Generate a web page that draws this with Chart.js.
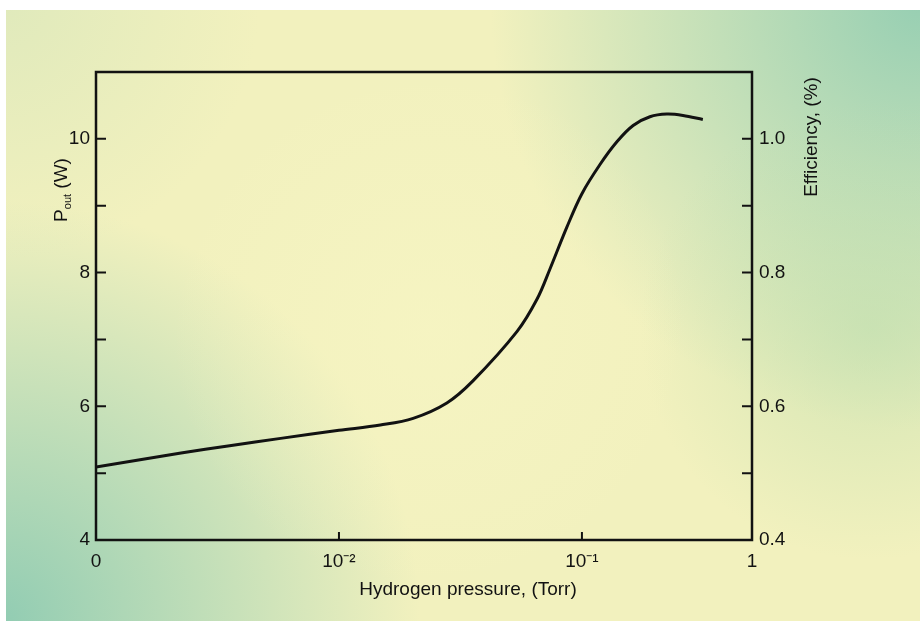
<!DOCTYPE html>
<html>
<head>
    <title>Output power vs hydrogen pressure</title>
    <style>
        body { margin: 0; background: #fff; }
        canvas { display: block; }
    </style>
</head>

<body>

    <canvas id="myChart" width="920" height="621"></canvas>

    <script src="https://cdn.jsdelivr.net/npm/chart.js"></script>

    <script>
        // values
        const pressures = [0, 0.0035, 0.0055, 0.0076, 0.01, 0.0148, 0.0202, 0.0278, 0.0356,
            0.0541, 0.0653, 0.0738, 0.0867, 0.1, 0.128, 0.161, 0.200, 0.251, 0.316, 0.393, 0.514];
        const powerOut = [5.09, 5.30, 5.41, 5.52, 5.64, 5.72, 5.82, 6.05, 6.38,
            7.12, 7.60, 8.05, 8.68, 9.18, 9.62, 9.96, 10.20, 10.33, 10.37, 10.35, 10.29];

        const xTickPressures = [0, 0.01, 0.1, 1];
        const xTickLabels = ["0", "10\u207B\u00B2", "10\u207B\u00B9", "1"];
        const powerTicks = [4, 6, 8, 10];
        const effTicks = [0.4, 0.6, 0.8, 1.0];

        // the original axis is broken: 0..1e-2 is one linear block, then a decade,
        // then a shorter last decade
        const LAST_DECADE = 0.70;
        function toAxis(p) {
            if (p <= 0.01) return p / 0.01;
            if (p <= 0.1) return 1 + Math.log10(p / 0.01);
            return 2 + LAST_DECADE * Math.log10(p / 0.1);
        }

        const points = pressures.map((p, i) => ({ x: toAxis(p), y: powerOut[i] }));
        const ink = "#121212";
        const font = "'Liberation Sans', Arial, sans-serif";

        const backdrop = {
            id: "backdrop",
            beforeDraw(chart) {
                const c = chart.ctx;
                const w = chart.width, h = chart.height;
                c.save();
                c.fillStyle = "#ffffff";
                c.fillRect(0, 0, w, h);
                c.fillStyle = "#f2f1be";
                c.fillRect(6, 10, w - 6, h - 10);
                const blobs = [
                    [0, h, 420, "rgba(140,202,178,0.95)"],
                    [w, 0, 430, "rgba(146,205,178,0.95)"],
                    [870, 330, 230, "rgba(185,220,172,0.55)"],
                    [0, 0, 260, "rgba(205,226,185,0.5)"],
                    [430, 330, 260, "rgba(248,246,196,0.6)"]
                ];
                c.beginPath();
                c.rect(6, 10, w - 6, h - 10);
                c.clip();
                blobs.forEach(([x, y, r, col]) => {
                    const g = c.createRadialGradient(x, y, 0, x, y, r);
                    g.addColorStop(0, col);
                    g.addColorStop(1, col.replace(/[\d.]+\)$/, "0)"));
                    c.fillStyle = g;
                    c.fillRect(0, 0, w, h);
                });
                c.restore();
            }
        };

        const frame = {
            id: "frame",
            afterDraw(chart) {
                const c = chart.ctx;
                const a = chart.chartArea;
                const sx = chart.scales.x, sy = chart.scales.y, sy1 = chart.scales.y1;
                c.save();
                c.strokeStyle = ink;
                c.lineWidth = 2.5;
                c.strokeRect(a.left, a.top, a.right - a.left, a.bottom - a.top);

                // inward tick marks
                c.lineWidth = 2;
                c.beginPath();
                sy.ticks.forEach(t => {
                    if (t.value <= sy.min || t.value >= sy.max) return;
                    const py = sy.getPixelForValue(t.value);
                    c.moveTo(a.left, py); c.lineTo(a.left + 10, py);
                });
                sy1.ticks.forEach(t => {
                    if (t.value <= sy1.min + 1e-9 || t.value >= sy1.max - 1e-9) return;
                    const py = sy1.getPixelForValue(t.value);
                    c.moveTo(a.right, py); c.lineTo(a.right - 10, py);
                });
                [0.01, 0.1].forEach(p => {
                    const px = sx.getPixelForValue(toAxis(p));
                    c.moveTo(px, a.bottom); c.lineTo(px, a.bottom - 8);
                });
                c.stroke();

                // axis titles
                c.fillStyle = ink;
                c.textBaseline = "middle";
                c.textAlign = "center";
                c.font = "19px " + font;
                c.fillText("Hydrogen pressure, (Torr)", 468, 590);

                c.save();
                c.translate(812, 137);
                c.rotate(-Math.PI / 2);
                c.fillText("Efficiency, (%)", 0, 0);
                c.restore();

                c.save();
                c.translate(62, 190);
                c.rotate(-Math.PI / 2);
                c.textAlign = "left";
                const pW = c.measureText("P").width;
                c.font = "11px " + font;
                const subW = c.measureText("out").width;
                c.font = "19px " + font;
                const restW = c.measureText(" (W)").width;
                let x0 = -(pW + subW + restW) / 2;
                c.fillText("P", x0, 0);
                c.font = "11px " + font;
                c.fillText("out", x0 + pW, 6);
                c.font = "19px " + font;
                c.fillText(" (W)", x0 + pW + subW, 0);
                c.restore();

                c.restore();
            }
        };

        const ctx = document.getElementById("myChart");

        new Chart(ctx, {
            type: "line",
            data: {
                datasets: [{
                    label: "P out",
                    data: points,
                    yAxisID: "y",
                    borderColor: ink,
                    borderWidth: 3,
                    pointRadius: 0,
                    fill: false,
                    tension: 0.35
                }]
            },
            options: {
                responsive: false,
                animation: false,
                layout: { padding: { top: 72, left: 0, right: 0, bottom: 0 } },
                plugins: {
                    legend: { display: false },
                    tooltip: { enabled: false }
                },
                scales: {
                    x: {
                        type: "linear",
                        min: 0,
                        max: toAxis(1),
                        grid: { display: false, drawTicks: false },
                        border: { display: false },
                        afterBuildTicks: s => { s.ticks = xTickPressures.map(p => ({ value: toAxis(p) })); },
                        afterFit: s => { s.height = 81; },
                        ticks: {
                            autoSkip: false,
                            maxRotation: 0,
                            padding: 10,
                            color: ink,
                            font: { family: font, size: 19 },
                            callback: (v, i) => xTickLabels[i]
                        }
                    },
                    y: {
                        position: "left",
                        min: 4,
                        max: 11,
                        grid: { display: false, drawTicks: false },
                        border: { display: false },
                        afterFit: s => { s.width = 96; },
                        ticks: {
                            stepSize: 1,
                            padding: 6,
                            color: ink,
                            font: { family: font, size: 19 },
                            callback: v => powerTicks.includes(v) ? String(v) : ""
                        }
                    },
                    y1: {
                        position: "right",
                        min: 0.4,
                        max: 1.1,
                        grid: { display: false, drawTicks: false },
                        border: { display: false },
                        afterFit: s => { s.width = 168; },
                        ticks: {
                            stepSize: 0.1,
                            padding: 7,
                            color: ink,
                            font: { family: font, size: 19 },
                            callback: v => effTicks.some(t => Math.abs(t - v) < 1e-6) ? v.toFixed(1) : ""
                        }
                    }
                }
            },
            plugins: [backdrop, frame]
        });
    </script>

</body>
</html>
